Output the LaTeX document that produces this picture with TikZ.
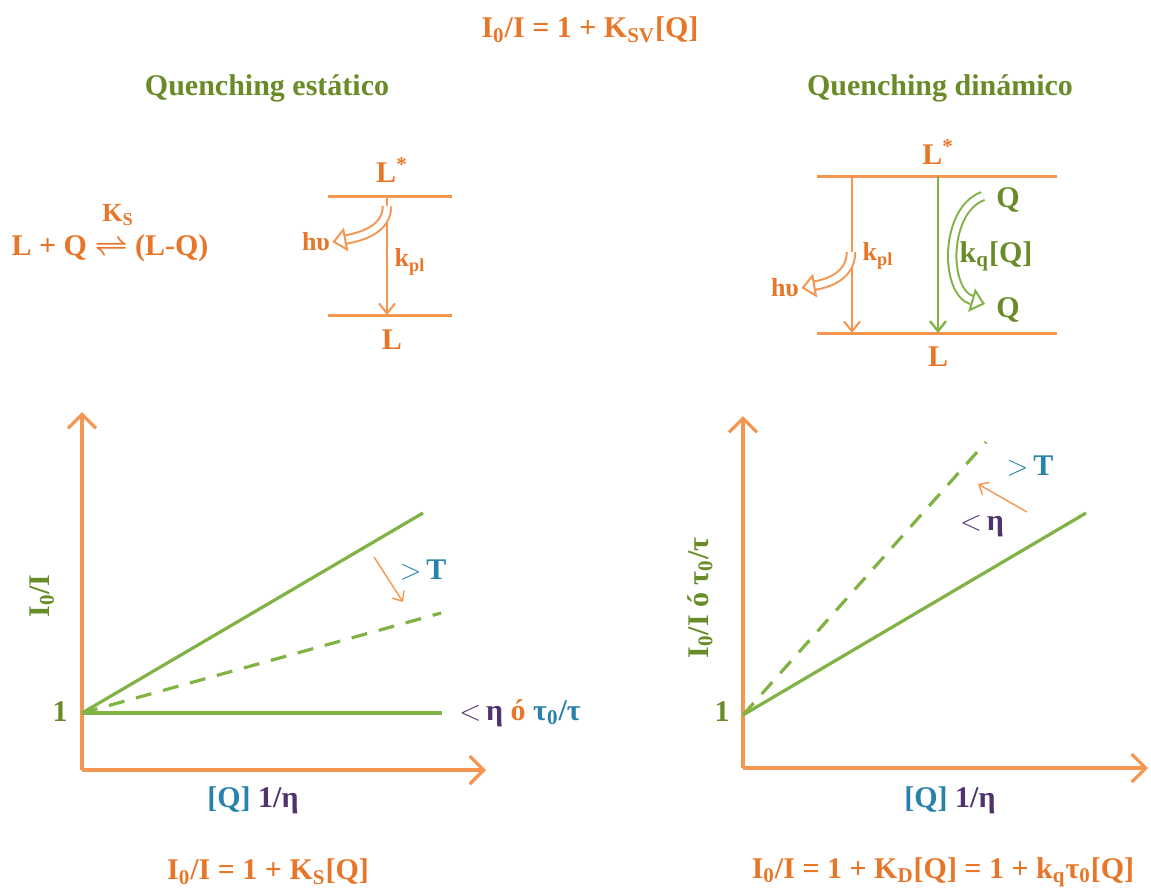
\documentclass[tikz,border=0pt]{standalone}
\usepackage{fontspec}
\setmainfont{Liberation Serif}
\usetikzlibrary{arrows.meta, positioning}
\definecolor{qorange}{RGB}{232, 118, 40}
\definecolor{lorange}{RGB}{244, 150, 80}
\definecolor{qgreen}{RGB}{105, 140, 40}
\definecolor{lgreen}{RGB}{128, 178, 68}
\definecolor{qteal}{RGB}{40, 130, 170}
\definecolor{qpurple}{RGB}{80, 50, 110}

\begin{document}
\begin{tikzpicture}[
    x=0.5pt, y=-0.5pt,
    % Styles for text and lines
    txt/.style={font=\bfseries\fontsize{15}{17}\selectfont, inner sep=1pt},
    txt_small/.style={font=\bfseries\fontsize{13}{15}\selectfont, inner sep=1pt},
    level/.style={draw=lorange, line width=1.5pt},
    decay/.style={draw=lorange, line width=1pt, -{Straight Barb[length=5pt, width=8pt]}},
    quench/.style={draw=lgreen, line width=1.2pt, -{Straight Barb[length=5pt, width=8pt]}},
    hollow/.style={line width=1pt, double=white, double distance=3.2pt, -{Triangle[open, fill=white, length=7pt, width=12pt]}},
    axis/.style={draw=lorange, line width=1.6pt, -{Straight Barb[length=7pt, width=14pt]}},
    fit_line/.style={draw=lgreen, line width=1.6pt},
    fit_dashed/.style={draw=lgreen, line width=1.6pt, dash pattern=on 8pt off 6pt},
    hint/.style={draw=lorange, line width=0.7pt, -{Straight Barb[length=4pt, width=7pt]}}
]
    \useasboundingbox (0,0) rectangle (1151,890);

    % --- HEADINGS ---
    \node [txt, text=qorange] (eq_sv) at (590,30) {I\textsubscript{0}/I = 1 + K\textsubscript{SV}[Q]};
    \node [txt, text=qgreen] (title_stat) at (267,88) {Quenching estático};
    \node [txt, text=qgreen] (title_dyn) at (940,88) {Quenching dinámico};

    % --- STATIC: REACTION ---
    \node [txt, text=qorange] (reaction) at (110,248) {L + Q {\boldmath$\rightleftharpoons$} (L-Q)};
    \node [txt_small, text=qorange] (k_s) at (118,215) {K\textsubscript{S}};

    % --- STATIC: ENERGY LEVELS ---
    \coordinate (s_top_l) at (328,196);
    \coordinate (s_top_r) at (452,196);
    \coordinate (s_bot_l) at (328,315);
    \coordinate (s_bot_r) at (452,315);
    \coordinate (s_from) at (387,196);
    \coordinate (s_to) at (387,315);
    \coordinate (s_hv_from) at (387,206);
    \draw [level] (s_top_l) -- (s_top_r);
    \draw [level] (s_bot_l) -- (s_bot_r);
    \node [txt, text=qorange] (s_lstar) at (392,170) {L\textsuperscript{*}};
    \node [txt, text=qorange] (s_l) at (392,340) {L};
    \draw [decay] (s_from) -- (s_to);
    \node [txt_small, text=qorange] (s_kpl) at (410,262) {k\textsubscript{pl}};
    \node [txt_small, text=qorange] (s_hv) at (316,242) {hυ};
    \draw [hollow, draw=lorange] (s_hv_from) .. controls (387,228) and (365,236) .. (s_hv.east);

    % --- DYNAMIC: ENERGY LEVELS ---
    \coordinate (d_top_l) at (817,176);
    \coordinate (d_top_r) at (1057,176);
    \coordinate (d_bot_l) at (817,333);
    \coordinate (d_bot_r) at (1057,333);
    \coordinate (d_rad_from) at (852,176);
    \coordinate (d_rad_to) at (852,333);
    \coordinate (d_q_from) at (938,176);
    \coordinate (d_q_to) at (938,333);
    \coordinate (d_hv_from) at (851,252);
    \coordinate (d_arc_from) at (983,196);
    \coordinate (d_arc_to) at (985,304);
    \draw [level] (d_top_l) -- (d_top_r);
    \draw [level] (d_bot_l) -- (d_bot_r);
    \node [txt, text=qorange] (d_lstar) at (938,152) {L\textsuperscript{*}};
    \node [txt, text=qorange] (d_l) at (938,357) {L};
    \draw [decay] (d_rad_from) -- (d_rad_to);
    \draw [quench] (d_q_from) -- (d_q_to);
    \node [txt_small, text=qorange] (d_kpl) at (878,256) {k\textsubscript{pl}};
    \node [txt_small, text=qorange] (d_hv) at (785,288) {hυ};
    \draw [hollow, draw=lorange] (d_hv_from) .. controls (851,272) and (835,282) .. (d_hv.east);
    \node [txt, text=qgreen] (d_q_in) at (1008,200) {Q};
    \node [txt, text=qgreen] (d_q_out) at (1008,310) {Q};
    \node [txt, text=qgreen] (d_kq) at (996,256) {k\textsubscript{q}[Q]};
    \draw [hollow, draw=lgreen] (d_arc_from) .. controls (944,210) and (944,292) .. (d_arc_to);

    % --- STATIC: PLOT ---
    \coordinate (s_origin) at (82,770);
    \coordinate (s_ytip) at (82,412);
    \coordinate (s_xtip) at (486,770);
    \coordinate (s_one) at (82,713);
    \coordinate (s_end_hi) at (423,513);
    \coordinate (s_end_mid) at (441,613);
    \coordinate (s_end_flat) at (442,713);
    \draw [axis] (s_origin) -- (s_ytip);
    \draw [axis] (s_origin) -- (s_xtip);
    \draw [fit_line] (s_one) -- (s_end_hi);
    \draw [fit_dashed] (s_one) -- (s_end_mid);
    \draw [fit_line] (s_one) -- (s_end_flat);
    \node [txt, text=qgreen] (s_one_lbl) at (60,712) {1};
    \node [txt, text=qgreen, rotate=90] (s_ylbl) at (42,596) {I\textsubscript{0}/I};
    \node [txt] (s_xlbl) at (253,800) {\textcolor{qteal}{[Q]} \textcolor{qpurple}{1/η}};
    \node [txt, text=qteal] (s_temp) at (423,570) {$>$\,T};
    \coordinate (s_hint_from) at (374,557);
    \coordinate (s_hint_to) at (403,602);
    \draw [hint] (s_hint_from) -- (s_hint_to);
    \node [txt] (s_visc) at (520,713) {\textcolor{qpurple}{$<$\,η} \textcolor{qorange}{ó} \textcolor{qteal}{τ\textsubscript{0}/τ}};
    \node [txt, text=qorange] (eq_s) at (268,872) {I\textsubscript{0}/I = 1 + K\textsubscript{S}[Q]};

    % --- DYNAMIC: PLOT ---
    \coordinate (d_origin) at (743,768);
    \coordinate (d_ytip) at (743,416);
    \coordinate (d_xtip) at (1148,768);
    \coordinate (d_one) at (743,715);
    \coordinate (d_end_hi) at (986,442);
    \coordinate (d_end_lo) at (1086,513);
    \draw [axis] (d_origin) -- (d_ytip);
    \draw [axis] (d_origin) -- (d_xtip);
    \draw [fit_dashed] (d_one) -- (d_end_hi);
    \draw [fit_line] (d_one) -- (d_end_lo);
    \node [txt, text=qgreen] (d_one_lbl) at (722,712) {1};
    \node [txt, text=qgreen, rotate=90] (d_ylbl) at (700,598) {I\textsubscript{0}/I ó τ\textsubscript{0}/τ};
    \node [txt] (d_xlbl) at (950,800) {\textcolor{qteal}{[Q]} \textcolor{qpurple}{1/η}};
    \node [txt, text=qteal] (d_temp) at (1030,466) {$>$\,T};
    \node [txt, text=qpurple] (d_visc) at (982,526) {$<$\,η};
    \coordinate (d_hint_from) at (1027,512);
    \coordinate (d_hint_to) at (978,484);
    \draw [hint] (d_hint_from) -- (d_hint_to);
    \node [txt, text=qorange] (eq_d) at (943,872) {I\textsubscript{0}/I = 1 + K\textsubscript{D}[Q] = 1 + k\textsubscript{q}τ\textsubscript{0}[Q]};

\end{tikzpicture}
\end{document}
